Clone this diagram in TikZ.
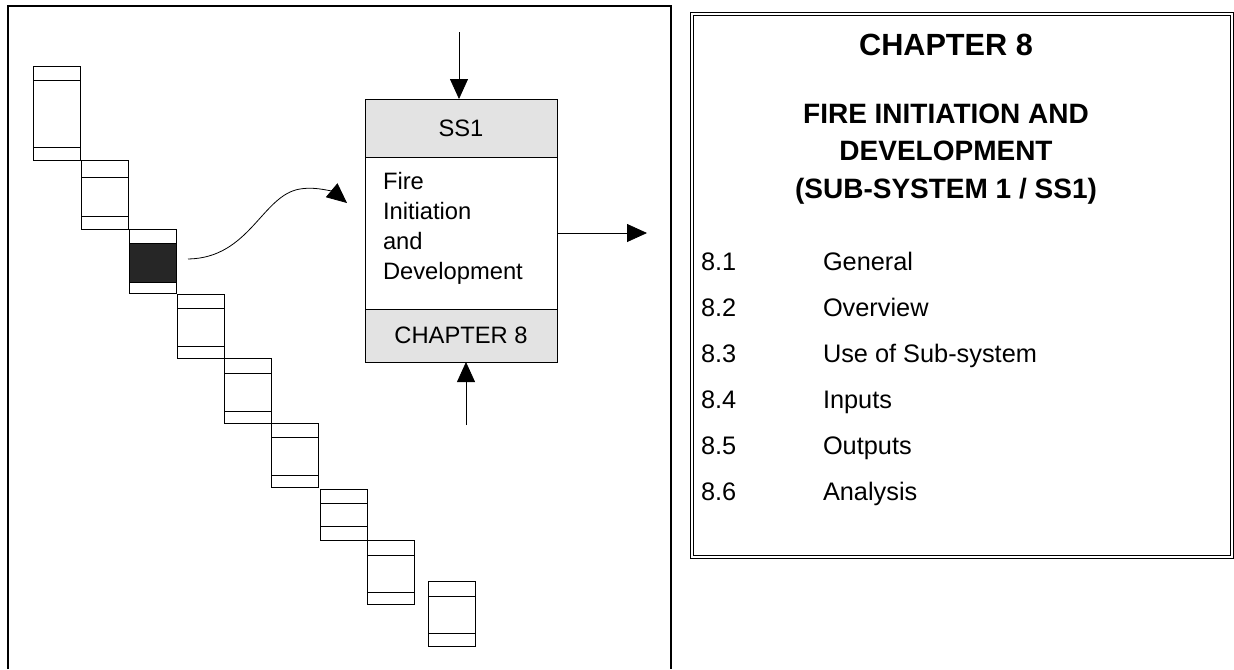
\documentclass[tikz,border=0pt]{standalone}
\usepackage{fontspec}
\setmainfont{Liberation Sans}
\usetikzlibrary{arrows.meta}

\begin{document}
\begin{tikzpicture}[x=0.75pt,y=-0.75pt,line width=0.75pt,
                    >={Triangle[length=15pt,width=13.5pt]}]
\tikzstyle{every node}=[inner sep=0pt,outer sep=0pt]
\tikzstyle{frame}=[line width=1.3pt]
\tikzstyle{arr}=[->,line width=0.6pt]
\tikzstyle{boxtext}=[font=\fontsize{17.8}{22.5}\selectfont]
\tikzstyle{hatch}=[draw,fill=black!11,minimum width=144pt,boxtext]
\tikzstyle{titletext}=[font=\bfseries\fontsize{21}{28}\selectfont,align=center]
\tikzstyle{listtext}=[font=\fontsize{19}{22}\selectfont,anchor=base west]
\useasboundingbox (0,0) rectangle (1234,669);

\draw[frame] (8,669) -- (8,6) -- (671,6) -- (671,669);

\fill[black!85] (129,243) rectangle (176,282);
\foreach \bx/\by/\la/\lb/\bb in {33/66/80/147/160,81/160/177/216/229,129/229/243/282/293,
    177/294/308/346/358,224/358/373/411/423,271/423/437/475/487,
    320/489/503/526/540,367/540/555/592/604,428/581/596/633/646}{
  \draw (\bx,\by) rectangle (\bx+47,\bb);
  \draw (\bx,\la) -- (\bx+47,\la);
  \draw (\bx,\lb) -- (\bx+47,\lb);
}

\node[hatch,minimum height=43.5pt] (ss1) at (461,128) {SS1};
\node[draw,minimum width=144pt,minimum height=114pt] (main) at (461,233) {};
\node[boxtext,align=left,anchor=west] (maintext) at (383,228) {Fire\\Initiation\\and\\Development};
\node[hatch,minimum height=39.75pt] (chap) at (461,335.5) {CHAPTER 8};

\coordinate (intop) at (459,32);
\coordinate (inbot) at (466,425);
\coordinate (outright) at (647,233);
\coordinate (curvestart) at (188,259);
\coordinate (curveend) at (347,203);
\draw[arr] (intop) -- (intop |- ss1.north);
\draw[arr] (inbot) -- (inbot |- chap.south);
\draw[arr] (main.east) -- (outright);
\draw[arr] (curvestart) .. controls (250,258) and (262,195) .. (300,189)
  .. controls (318,186) and (335,193) .. (curveend);

\draw[double,double distance=1.5pt] (691.5,13.5) rectangle (1231.5,557);
\node[titletext,font=\bfseries\fontsize{23}{28}\selectfont] (chaptitle) at (946,45) {CHAPTER 8};
\node[titletext] (systitle) at (946,154) {FIRE INITIATION AND\\DEVELOPMENT\\(SUB-SYSTEM 1 / SS1)};
\foreach \num/\txt [count=\i] in {8.1/General,8.2/Overview,8.3/Use of Sub-system,
    8.4/Inputs,8.5/Outputs,8.6/Analysis}{
  \node[listtext] (num\i) at (701,224+46*\i) {\num};
  \node[listtext] (item\i) at (823,224+46*\i) {\txt};
}
\end{tikzpicture}
\end{document}
